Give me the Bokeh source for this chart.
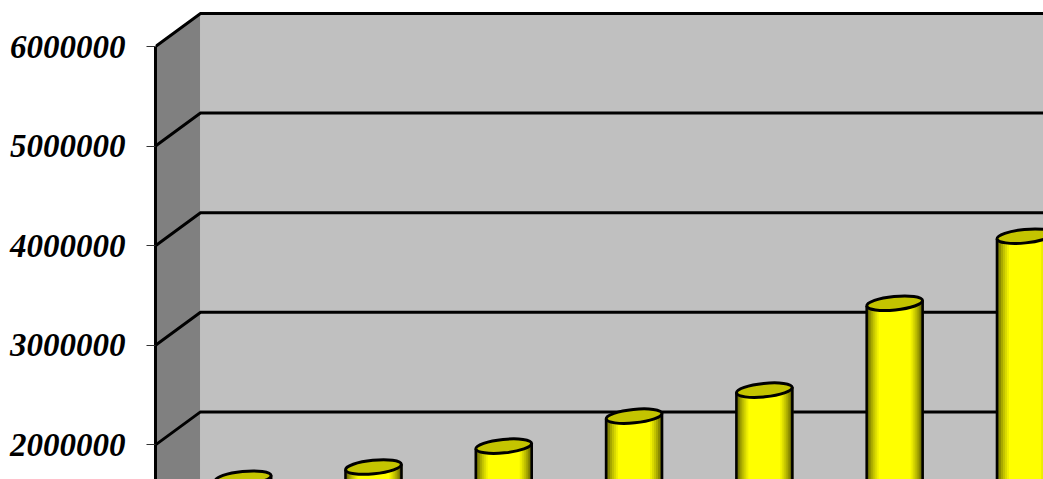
from bokeh.embed import file_html
from bokeh.resources import INLINE
from bokeh.plotting import figure
from bokeh.models import Range1d, LinearAxis, FixedTicker

# ---- data ----
categories = ["1", "2", "3", "4", "5", "6", "7"]
values = [1500000, 1612000, 1822000, 2123000, 2384000, 3257000, 3930000]
tick_values = [1000000, 2000000, 3000000, 4000000, 5000000, 6000000]

# ---- geometry / scales ----
PX_PER_UNIT = 99.6 / 1e6      # screen px per value unit
PX_PER_CAT = 130.3            # screen px per category
FRAME_LEFT = 155
WIN_W, WIN_H = 1043, 479
FRAME_W = WIN_W - FRAME_LEFT
FRAME_H = WIN_H
Y_TOP = 6000000 + 46 / PX_PER_UNIT
Y_BOTTOM = Y_TOP - FRAME_H / PX_PER_UNIT
X_END = FRAME_W / PX_PER_CAT

DX = 45 / PX_PER_CAT          # full depth in category units
DY = 33 / PX_PER_UNIT         # full depth in value units

p = figure(width=WIN_W, height=WIN_H, output_backend="svg", toolbar_location=None,
           x_range=Range1d(0, X_END), y_range=Range1d(Y_BOTTOM, Y_TOP),
           x_axis_location=None, y_axis_location=None,
           min_border_left=FRAME_LEFT, min_border_right=0, min_border_top=0, min_border_bottom=0,
           outline_line_color=None, background_fill_color="white", border_fill_color="white")
p.grid.visible = False

# walls
p.patch([0, 0, DX, DX], [Y_BOTTOM, 6000000, 6000000 + DY, Y_BOTTOM], fill_color="#808080", line_color=None)
p.quad(left=[DX], right=[X_END], bottom=[Y_BOTTOM], top=[6000000 + DY], fill_color="#C0C0C0", line_color=None)

# gridlines across side wall and back wall
for t in tick_values:
    p.line([0, DX, X_END], [t, t + DY, t + DY], line_color="black", line_width=3, line_join="miter")

# cylinders: shaded strips, side outlines, elliptical cap
STRIPS = 28
BAR_W_PX = 56
TILT_PX = 2.8
OVERLAP = 1.0 / PX_PER_CAT
lefts, rights, tops, colors = [], [], [], []
def shade(u):
    t = min(1.0, (1 - abs(u)) / 0.45) ** 0.6
    t = 0.2 + 0.8 * t
    return "#%02x%02x00" % (int(255 * t), int(255 * t))

mid_dy = DY / 2
cx = [i + 0.5 + DX / 2 for i in range(len(values))]
half_w = BAR_W_PX / 2 / PX_PER_CAT
for c, v in zip(cx, values):
    for s in range(STRIPS):
        a = -1 + 2 * s / STRIPS
        b = a + 2 / STRIPS
        m = (a + b) / 2
        lefts.append(c + a * half_w)
        rights.append(c + b * half_w + OVERLAP)
        tops.append(v + mid_dy + m * TILT_PX / PX_PER_UNIT)
        colors.append(shade(m))
p.quad(left=lefts, right=rights, bottom=0, top=tops, fill_color=colors, line_color=None)

p.segment(x0=[c - half_w for c in cx], x1=[c - half_w for c in cx], y0=[0] * 7,
          y1=[v + mid_dy - TILT_PX / PX_PER_UNIT for v in values], line_color="black", line_width=2.5)
p.segment(x0=[c + half_w for c in cx], x1=[c + half_w for c in cx], y0=[0] * 7,
          y1=[v + mid_dy + TILT_PX / PX_PER_UNIT for v in values], line_color="black", line_width=2.5)
p.ellipse(x=cx, y=[v + mid_dy for v in values], width=BAR_W_PX, height=13.5,
          width_units="screen", height_units="screen",
          angle=0.1, fill_color="#C4C400", line_color="black", line_width=3)

# value axis
axis = LinearAxis(ticker=FixedTicker(ticks=tick_values), bounds=(Y_BOTTOM, 6000000),
                  axis_line_color="black", axis_line_width=3,
                  major_tick_line_color="#333333", major_tick_line_width=1,
                  major_tick_in=0, major_tick_out=9,
                  minor_tick_line_color=None, major_label_standoff=21,
                  major_label_text_font="Liberation Serif",
                  major_label_text_font_style="bold italic",
                  major_label_text_font_size="33px",
                  major_label_text_color="black")
axis.formatter.use_scientific = False
p.add_layout(axis, "left")

open("out.html", "w").write(file_html(p, INLINE))
